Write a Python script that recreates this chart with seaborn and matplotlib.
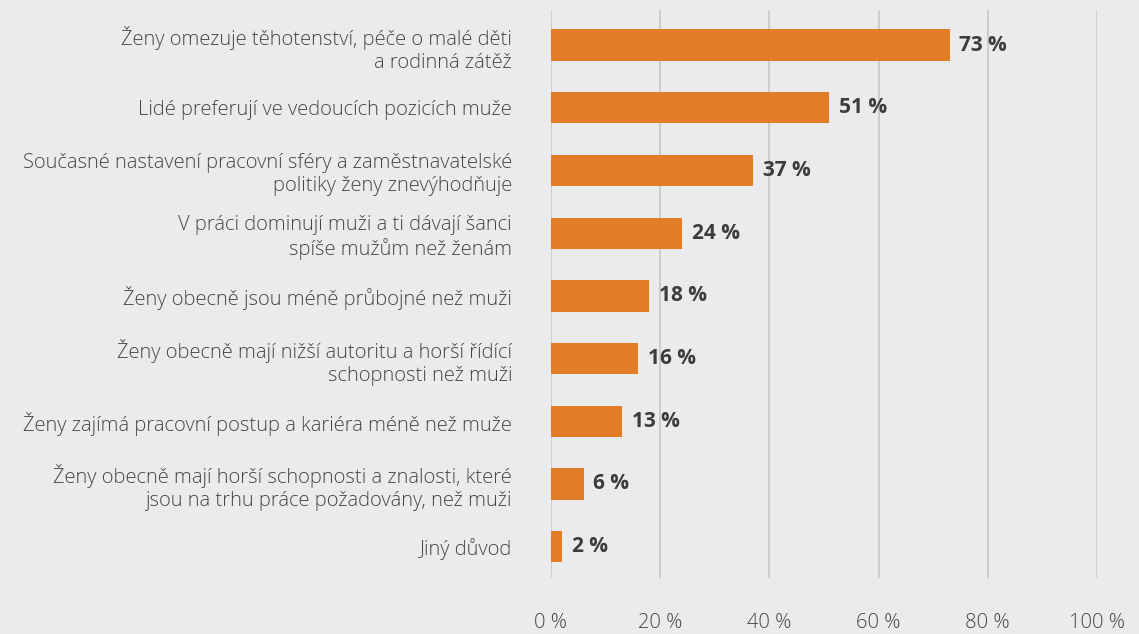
import matplotlib
matplotlib.use("Agg")
import matplotlib.pyplot as plt
import seaborn as sns
import pandas as pd

categories = [
    "Ženy omezuje těhotenství, péče o malé děti\na rodinná zátěž",
    "Lidé preferují ve vedoucích pozicích muže",
    "Současné nastavení pracovní sféry a zaměstnavatelské\npolitiky ženy znevýhodňuje",
    "V práci dominují muži a ti dávají šanci\nspíše mužům než ženám",
    "Ženy obecně jsou méně průbojné než muži",
    "Ženy obecně mají nižší autoritu a horší řídící\nschopnosti než muži",
    "Ženy zajímá pracovní postup a kariéra méně než muže",
    "Ženy obecně mají horší schopnosti a znalosti, které\njsou na trhu práce požadovány, než muži",
    "Jiný důvod",
]
values = [73, 51, 37, 24, 18, 16, 13, 6, 2]
x_ticks = [0, 20, 40, 60, 80, 100]
x_tick_labels = ["0 %", "20 %", "40 %", "60 %", "80 %", "100 %"]

BG = "#ebebed"
BAR = "#e07d25"
GRID = "#c8c8c8"
TEXT = "#454545"
VALUE_TEXT = "#3c3c3c"

sns.set_theme(style="white")
plt.rcParams["font.family"] = ["Open Sans", "DejaVu Sans"]

df = pd.DataFrame({"reason": categories, "share": values})

fig = plt.figure(figsize=(11.39, 6.34), dpi=100, facecolor=BG)
ax = fig.add_axes([551 / 1139, 1 - 578 / 634, 546 / 1139, 568 / 634])
ax.set_facecolor(BG)

sns.barplot(data=df, x="share", y="reason", orient="h", color=BAR,
            saturation=1, width=0.5, linewidth=0, edgecolor="none", ax=ax)

ax.set_xlim(0, 100)
ax.set_ylim(len(categories) - 0.5, -0.56)
ax.set_xticks(x_ticks)
ax.set_xticklabels(x_tick_labels)
ax.xaxis.grid(True, color=GRID, linewidth=1.2)
ax.yaxis.grid(False)
ax.set_axisbelow(True)
for s in ax.spines.values():
    s.set_visible(False)
ax.set_xlabel("")
ax.set_ylabel("")
ax.tick_params(axis="x", length=0, pad=25, labelsize=14.5, labelcolor=TEXT)
ax.tick_params(axis="y", length=0, pad=28, labelsize=14.5, labelcolor=TEXT)
for lbl in ax.get_xticklabels() + ax.get_yticklabels():
    lbl.set_fontweight("light")

for i, v in enumerate(values):
    ax.annotate(f"{v} %", xy=(v, i), xytext=(7, 0), textcoords="offset points",
                va="center", ha="left", fontsize=15, fontweight="bold",
                color=VALUE_TEXT)

fig.savefig("out.png", dpi=100, facecolor=BG)
